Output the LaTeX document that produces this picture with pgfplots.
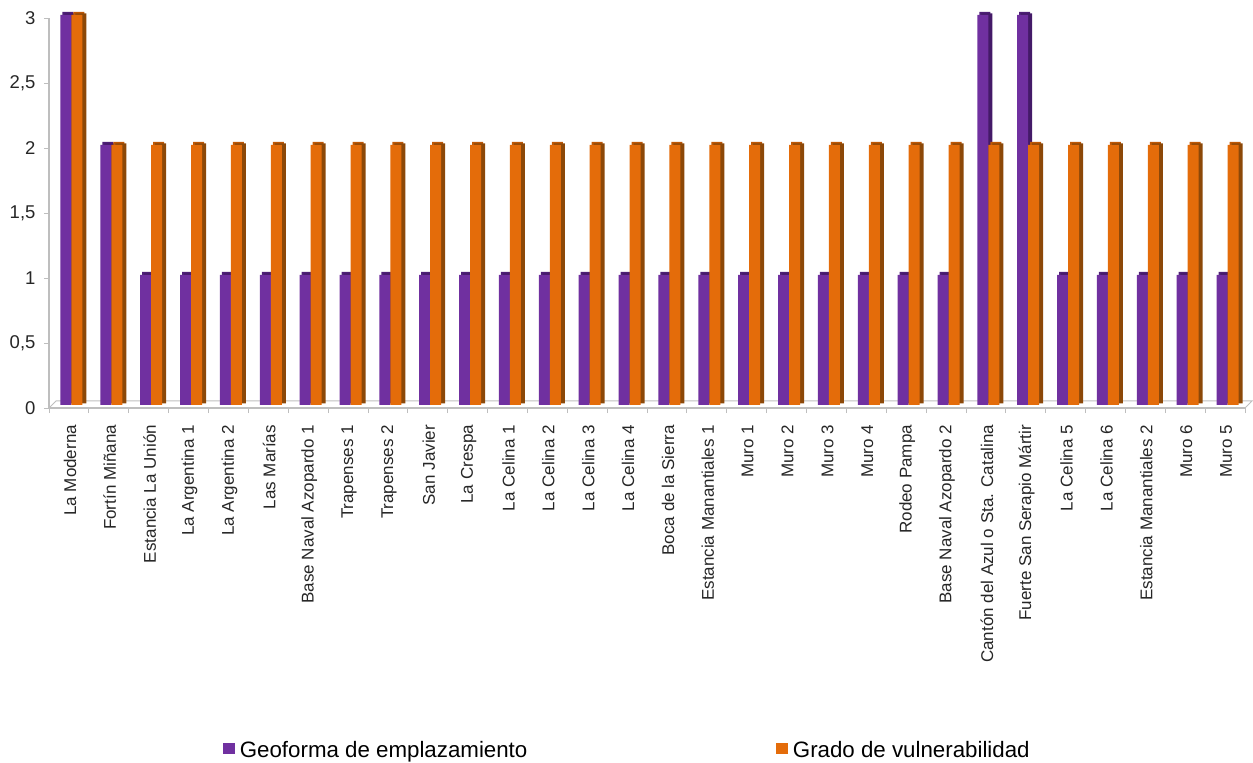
\documentclass[border=0pt]{standalone}
\usepackage{fontspec}
\setmainfont{Liberation Sans}
\usepackage{pgfplots}
\usepackage{pgfplotstable}
\pgfplotsset{compat=1.18}
\definecolor{geo}{RGB}{112,48,160}
\definecolor{geotop}{RGB}{78,32,118}
\definecolor{geoside}{RGB}{68,26,104}
\definecolor{gra}{RGB}{228,108,10}
\definecolor{gratop}{RGB}{190,88,6}
\definecolor{graside}{RGB}{140,72,8}
\definecolor{axisgray}{RGB}{190,190,190}

\pgfplotstableread{
idx geoforma grado
0  3 3
1  2 2
2  1 2
3  1 2
4  1 2
5  1 2
6  1 2
7  1 2
8  1 2
9  1 2
10 1 2
11 1 2
12 1 2
13 1 2
14 1 2
15 1 2
16 1 2
17 1 2
18 1 2
19 1 2
20 1 2
21 1 2
22 1 2
23 3 2
24 3 2
25 1 2
26 1 2
27 1 2
28 1 2
29 1 2
}\datos

\pgfplotsset{
  bar3d/.style={ybar, bar width=11pt, draw=none, fill=#1},
  sqleg/.style={legend image code/.code={\fill[#1] (0pt,-7pt) rectangle (11.5pt,4.5pt);}},
}

\begin{document}
\begin{tikzpicture}[x=1pt,y=1pt]
\useasboundingbox (0,0) rectangle (1253,763);
\begin{axis}[
    at={(49pt,355pt)}, anchor=south west,
    scale only axis,
    width=1196pt, height=390pt,
    xmin=-0.5, xmax=29.5,
    ymin=0, ymax=3,
    clip=false,
    axis lines=left,
    axis line style={-, axisgray, line width=1.2pt},
    tick style={axisgray, line width=0.8pt},
    tick align=outside,
    major tick length=5pt,
    xtick={-0.5,0.5,...,29.5},
    x tick label as interval=true,
    xticklabels={La Moderna,Fortín Miñana,Estancia La Unión,La Argentina 1,La Argentina 2,Las Marías,Base Naval Azopardo 1,Trapenses 1,Trapenses 2,San Javier,La Crespa,La Celina 1,La Celina 2,La Celina 3,La Celina 4,Boca de la Sierra,Estancia Manantiales 1,Muro 1,Muro 2,Muro 3,Muro 4,Rodeo Pampa,Base Naval Azopardo 2,Cantón del Azul o Sta. Catalina,Fuerte San Serapio Mártir,La Celina 5,La Celina 6,Estancia Manantiales 2,Muro 6,Muro 5},
    x tick label style={rotate=90, anchor=east, font=\fontsize{17}{20}\selectfont, text=black!85, xshift=-8.5pt, yshift=-1pt},
    ytick={0,0.5,...,3},
    /pgf/number format/use comma,
    /pgf/number format/assume math mode=true,
    y tick label style={font=\fontsize{18.5}{20}\selectfont, text=black!85, xshift=-5pt},
    legend style={
      at={(0.4837,-0.877)}, anchor=center, draw=none, fill=none,
      legend columns=2,
      font=\fontsize{22.3}{25}\selectfont,
      /tikz/every odd column/.append style={column sep=3pt},
      /tikz/every even column/.append style={column sep=247pt},
    },
]
\draw[axisgray, line width=1pt]
  (rel axis cs:0,0) -- ([xshift=7pt,yshift=7pt]rel axis cs:0,0)
  -- ([xshift=7pt,yshift=7pt]rel axis cs:1,0) -- (rel axis cs:1,0);

\addplot[bar3d=geotop, bar shift=-3pt, xshift=2pt, yshift=6pt, forget plot] table[x=idx,y=geoforma] {\datos};
\addplot[bar3d=geoside, bar shift=-3pt, xshift=4pt, yshift=4.5pt, forget plot] table[x=idx,y=geoforma] {\datos};
\addplot[bar3d=geo, bar shift=-3pt, yshift=3pt, sqleg=geo] table[x=idx,y=geoforma] {\datos};
\addlegendentry{Geoforma de emplazamiento}

\addplot[bar3d=gratop, bar shift=8pt, xshift=2pt, yshift=6pt, forget plot] table[x=idx,y=grado] {\datos};
\addplot[bar3d=graside, bar shift=8pt, xshift=4pt, yshift=4.5pt, forget plot] table[x=idx,y=grado] {\datos};
\addplot[bar3d=gra, bar shift=8pt, yshift=3pt, sqleg=gra] table[x=idx,y=grado] {\datos};
\addlegendentry{Grado de vulnerabilidad}
\end{axis}
\end{tikzpicture}
\end{document}
